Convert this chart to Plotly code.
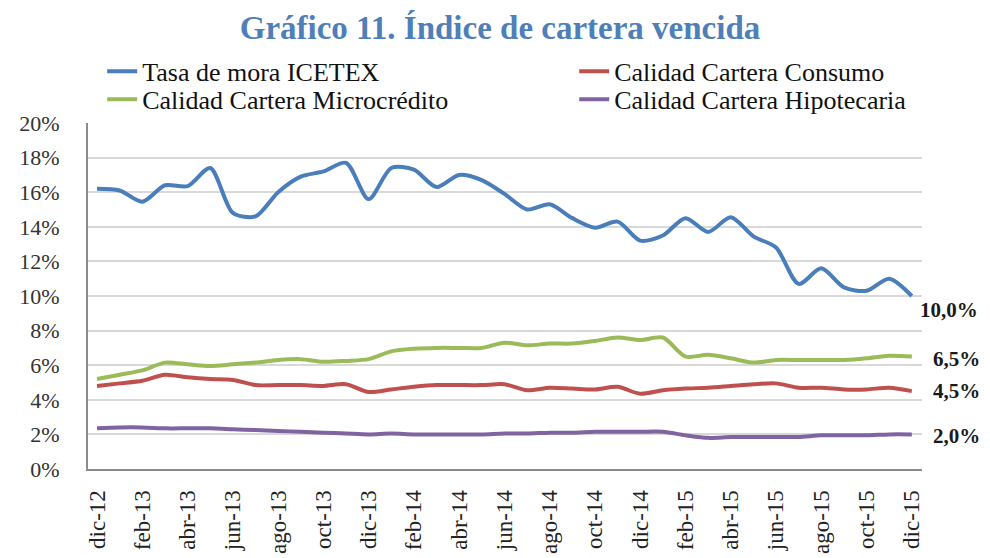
import plotly.graph_objects as go

months = ["dic-12",
          "ene-13", "feb-13", "mar-13", "abr-13", "may-13", "jun-13", "jul-13", "ago-13", "sep-13", "oct-13", "nov-13", "dic-13",
          "ene-14", "feb-14", "mar-14", "abr-14", "may-14", "jun-14", "jul-14", "ago-14", "sep-14", "oct-14", "nov-14", "dic-14",
          "ene-15", "feb-15", "mar-15", "abr-15", "may-15", "jun-15", "jul-15", "ago-15", "sep-15", "oct-15", "nov-15", "dic-15"]

icetex = [16.2, 16.1, 15.45, 16.4, 16.35, 17.4, 14.8, 14.6, 16.0, 16.9, 17.2, 17.7, 15.6,
          17.4, 17.3, 16.3, 17.0, 16.7, 15.9, 15.0, 15.3, 14.5, 13.95, 14.3, 13.2,
          13.5, 14.5, 13.7, 14.55, 13.45, 12.8, 10.7, 11.6, 10.5, 10.3, 11.0, 10.0]
consumo = [4.8, 4.95, 5.1, 5.45, 5.3, 5.2, 5.15, 4.85, 4.85, 4.85, 4.8, 4.9, 4.45,
           4.6, 4.75, 4.85, 4.85, 4.85, 4.9, 4.55, 4.7, 4.65, 4.6, 4.75, 4.35,
           4.55, 4.65, 4.7, 4.8, 4.9, 4.95, 4.7, 4.7, 4.6, 4.6, 4.7, 4.5]
micro = [5.2, 5.45, 5.7, 6.15, 6.05, 5.95, 6.05, 6.15, 6.3, 6.35, 6.2, 6.25, 6.35,
         6.8, 6.95, 7.0, 7.0, 7.0, 7.3, 7.15, 7.25, 7.25, 7.4, 7.6, 7.45,
         7.6, 6.5, 6.6, 6.4, 6.15, 6.3, 6.3, 6.3, 6.3, 6.4, 6.55, 6.5]
hipo = [2.35, 2.4, 2.4, 2.35, 2.35, 2.35, 2.3, 2.25, 2.2, 2.15, 2.1, 2.05, 2.0,
        2.05, 2.0, 2.0, 2.0, 2.0, 2.05, 2.05, 2.1, 2.1, 2.15, 2.15, 2.15,
        2.15, 1.95, 1.8, 1.85, 1.85, 1.85, 1.85, 1.95, 1.95, 1.95, 2.0, 2.0]

names = ["Tasa de mora ICETEX", "Calidad Cartera Consumo",
         "Calidad Cartera Microcrédito", "Calidad Cartera Hipotecaria"]
colors = ["#4a7ebb", "#c0504d", "#9bbb59", "#8064a2"]
series = [icetex, consumo, micro, hipo]
legend_ids = ["legend", "legend2", "legend3", "legend4"]
legend_pos = [(0.017, 1.217), (0.583, 1.217), (0.017, 1.136), (0.583, 1.136)]
end_labels = ["10,0%", "4,5%", "6,5%", "2,0%"]
label_shift = [-14, 0, -2, -2]
label_xshift = [6, 19, 19, 19]

tick_vals = months[::2]
y_ticks = [0, 2, 4, 6, 8, 10, 12, 14, 16, 18, 20]
y_text = [f"{v}%" for v in y_ticks]

fig = go.Figure()
for name, col, vals, lid in zip(names, colors, series, legend_ids):
    fig.add_trace(go.Scatter(
        x=months, y=vals, name=name, mode="lines", legend=lid,
        line=dict(color=col, width=4, shape="spline", smoothing=0.8),
    ))

for vals, txt, sh, xs in zip(series, end_labels, label_shift, label_xshift):
    fig.add_annotation(x=months[-1], y=vals[-1], text=f"<b>{txt}</b>", showarrow=False,
                       xanchor="left", xshift=xs, yshift=sh,
                       font=dict(family="Liberation Serif", size=21, color="#1a1a1a"))

legend_style = dict(xanchor="left", yanchor="top", bgcolor="rgba(0,0,0,0)",
                    font=dict(family="Liberation Serif", size=26, color="#111111"))
legends = {}
for lid, (lx, ly) in zip(legend_ids, legend_pos):
    legends[lid] = dict(x=lx, y=ly, **legend_style)

fig.update_layout(
    width=990, height=558,
    paper_bgcolor="white", plot_bgcolor="white",
    margin=dict(l=80, r=76, t=115, b=97),
    title=dict(text="<b>Gráfico 11. Índice de cartera vencida</b>",
               x=0.497, xanchor="center", y=0.966, yanchor="middle",
               font=dict(family="Liberation Serif", size=33, color="#4f7fb8")),
    font=dict(family="Liberation Serif", color="#222222"),
    showlegend=True,
    **legends,
    xaxis=dict(type="category", range=[-0.4, 36.45], tickmode="array",
               tickvals=tick_vals, ticktext=tick_vals, tickangle=-90,
               showgrid=False, showline=True, linecolor="#8c8c8c", linewidth=2,
               ticks="outside", ticklen=10, tickcolor="rgba(0,0,0,0)",
               tickfont=dict(family="Liberation Serif", size=23, color="#222222")),
    yaxis=dict(range=[0, 20], tickmode="array", tickvals=y_ticks, ticktext=y_text,
               showgrid=True, gridcolor="#d9d9d9", gridwidth=1.5,
               showline=True, linecolor="#8c8c8c", linewidth=2, zeroline=False,
               ticks="outside", ticklen=22, tickcolor="rgba(0,0,0,0)",
               tickfont=dict(family="Liberation Serif", size=22, color="#333333")),
)

fig.write_html("out.html")
